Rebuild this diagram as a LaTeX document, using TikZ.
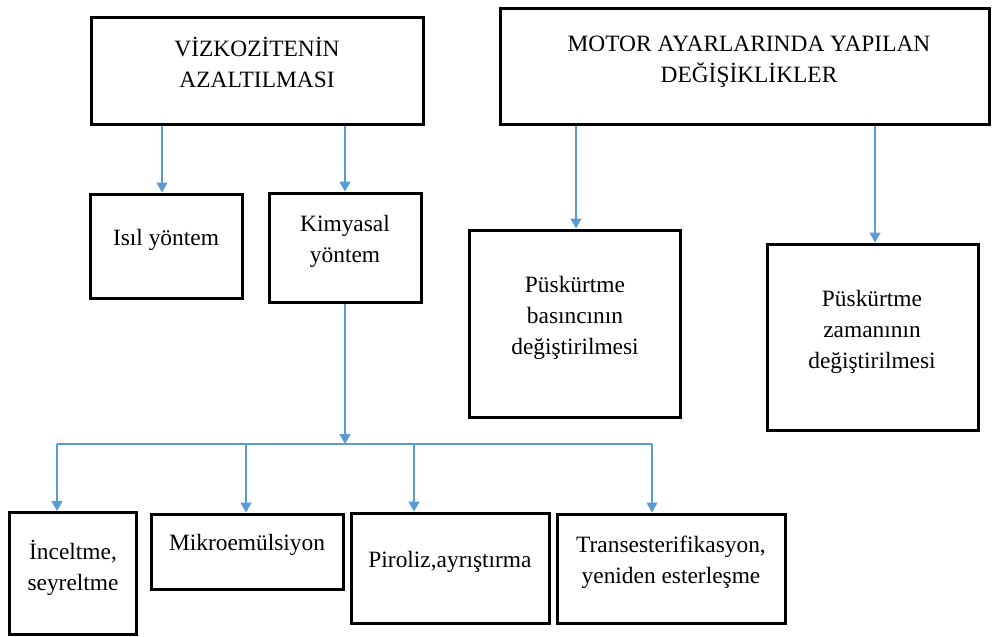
\documentclass[tikz,border=0pt]{standalone}
\usepackage{fontspec}
\setmainfont{Liberation Serif}
\newfontfamily\tnrfont{Liberation Serif}
\usetikzlibrary{arrows.meta}
\definecolor{conn}{HTML}{5B9BD5}
\tikzset{
  box/.style={draw=black, line width=3pt, fill=none, inner sep=0pt},
  lbl/.style={anchor=base, align=center, inner sep=0pt, font=\tnrfont\fontsize{23.4}{31}\selectfont},
  arr/.style={draw=conn, line width=1.3pt, -{Triangle[width=11pt,length=10pt]}},
  conline/.style={draw=conn, line width=1.3pt}
}
\begin{document}
\begin{tikzpicture}[x=1pt,y=-1pt]
\useasboundingbox (0,0) rectangle (993,637);
% boxes
\node[box, minimum width=332pt, minimum height=107pt] (viz) at (257,70.5) {};
\node[box, minimum width=489pt, minimum height=116pt] (motor) at (744.5,66) {};
\node[box, minimum width=152pt, minimum height=104pt] (isil) at (166,246) {};
\node[box, minimum width=152pt, minimum height=109pt] (kim) at (345,247.5) {};
\node[box, minimum width=211pt, minimum height=187pt] (pus1) at (574.5,323.5) {};
\node[box, minimum width=211pt, minimum height=186pt] (pus2) at (872.5,337) {};
\node[box, minimum width=127pt, minimum height=122pt] (incel) at (72.5,573.5) {};
\node[box, minimum width=192pt, minimum height=75pt] (mikro) at (247,551.5) {};
\node[box, minimum width=198pt, minimum height=110pt] (piro) at (450,568) {};
\node[box, minimum width=228pt, minimum height=109pt] (trans) at (671,568.5) {};
% labels (anchor base = baseline of last line)
\node[lbl] (tviz) at (257,87) {VİZKOZİTENİN\\AZALTILMASI};
\node[lbl] (tmotor) at (749,82) {MOTOR AYARLARINDA YAPILAN\\DEĞİŞİKLİKLER};
\node[lbl] (tisil) at (166,245) {Isıl yöntem};
\node[lbl] (tkim) at (345,262) {Kimyasal\\yöntem};
\node[lbl] (tpus1) at (575,354) {Püskürtme\\basıncının\\değiştirilmesi};
\node[lbl] (tpus2) at (872,368) {Püskürtme\\zamanının\\değiştirilmesi};
\node[lbl] (tincel) at (73,590) {İnceltme,\\seyreltme};
\node[lbl] (tmikro) at (247,550) {Mikroemülsiyon};
\node[lbl] (tpiro) at (450,567) {Piroliz,ayrıştırma};
\node[lbl] (ttrans) at (671,583) {Transesterifikasyon,\\yeniden esterleşme};
% connectors
\coordinate (a1) at (162,124);
\draw[arr] (viz.south -| a1) -- (isil.north -| a1);
\draw[arr] (viz.south -| kim.north) -- (kim.north);
\coordinate (m1) at (576,124);
\coordinate (m2) at (875,124);
\draw[arr] (motor.south -| m1) -- (pus1.north -| m1);
\draw[arr] (motor.south -| m2) -- (pus2.north -| m2);
\coordinate (b1) at (57,444);
\coordinate (b2) at (246,444);
\coordinate (b3) at (414,444);
\coordinate (b4) at (652,444);
\draw[conline] (b1) -- (b4);
\draw[arr] (kim.south) -- (kim.south |- b1);
\draw[arr] (b1) -- (b1 |- incel.north);
\draw[arr] (b2) -- (b2 |- mikro.north);
\draw[arr] (b3) -- (b3 |- piro.north);
\draw[arr] (b4) -- (b4 |- trans.north);
\end{tikzpicture}
\end{document}
